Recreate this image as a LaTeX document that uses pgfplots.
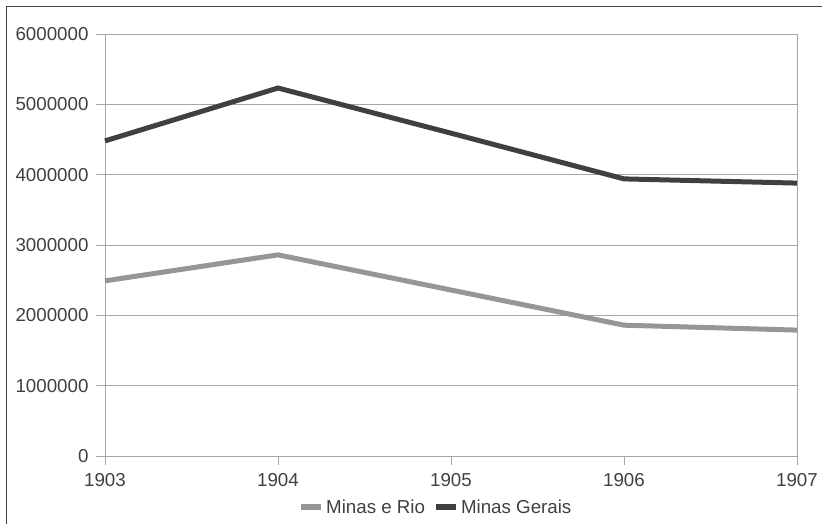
\documentclass[border=0pt]{standalone}
\usepackage{pgfplots}
\pgfplotsset{compat=1.18}
\usepackage{fontspec}
\setmainfont{Liberation Sans}
\definecolor{gridc}{HTML}{A6A6A6}
\definecolor{txt}{HTML}{404040}
\definecolor{darkl}{HTML}{404040}
\definecolor{lightl}{HTML}{969696}
\begin{document}
\begin{tikzpicture}
\begin{axis}[
  scale only axis,
  width=692bp, height=422bp,
  xmin=1903, xmax=1907,
  ymin=0, ymax=6000000,
  xtick={1903,1904,1905,1906,1907},
  ytick={0,1000000,2000000,3000000,4000000,5000000,6000000},
  xticklabels={1903,1904,1905,1906,1907},
  yticklabels={0,1000000,2000000,3000000,4000000,5000000,6000000},
  scaled y ticks=false,
  xtick pos=lower, ytick pos=left,
  tick align=outside,
  major tick length=9bp,
  tick style={gridc, line width=0.8bp},
  axis line style={gridc, line width=0.8bp},
  ymajorgrids,
  grid style={gridc, line width=0.8bp},
  tick label style={font=\fontsize{18.8}{22}\selectfont, text=txt},
  xticklabel style={yshift=-5bp},
  yticklabel style={xshift=-4bp},
  legend columns=2,
  legend style={draw=none, fill=none, at={(0.478,-0.121)}, anchor=center,
    font=\fontsize{18.8}{22}\selectfont, text=txt,
    /tikz/every even column/.append style={column sep=6bp}},
  legend image code/.code={\draw[#1, line width=6bp] (0bp,0bp) -- (20bp,0bp);},
  clip=false,
]
\addplot[lightl, line width=5bp] coordinates {
  (1903,2490000) (1904,2860000) (1905,2360000) (1906,1860000) (1907,1790000)};
\addlegendentry{Minas e Rio}
\addplot[darkl, line width=5bp] coordinates {
  (1903,4480000) (1904,5232000) (1905,4590000) (1906,3940000) (1907,3880000)};
\addlegendentry{Minas Gerais}
\end{axis}
\draw[txt, line width=1bp] (-98bp,-68bp) -- (-98bp,449bp) -- (717bp,449bp);
\useasboundingbox (-105bp,-68bp) rectangle (720bp,456bp);
\end{tikzpicture}
\end{document}
